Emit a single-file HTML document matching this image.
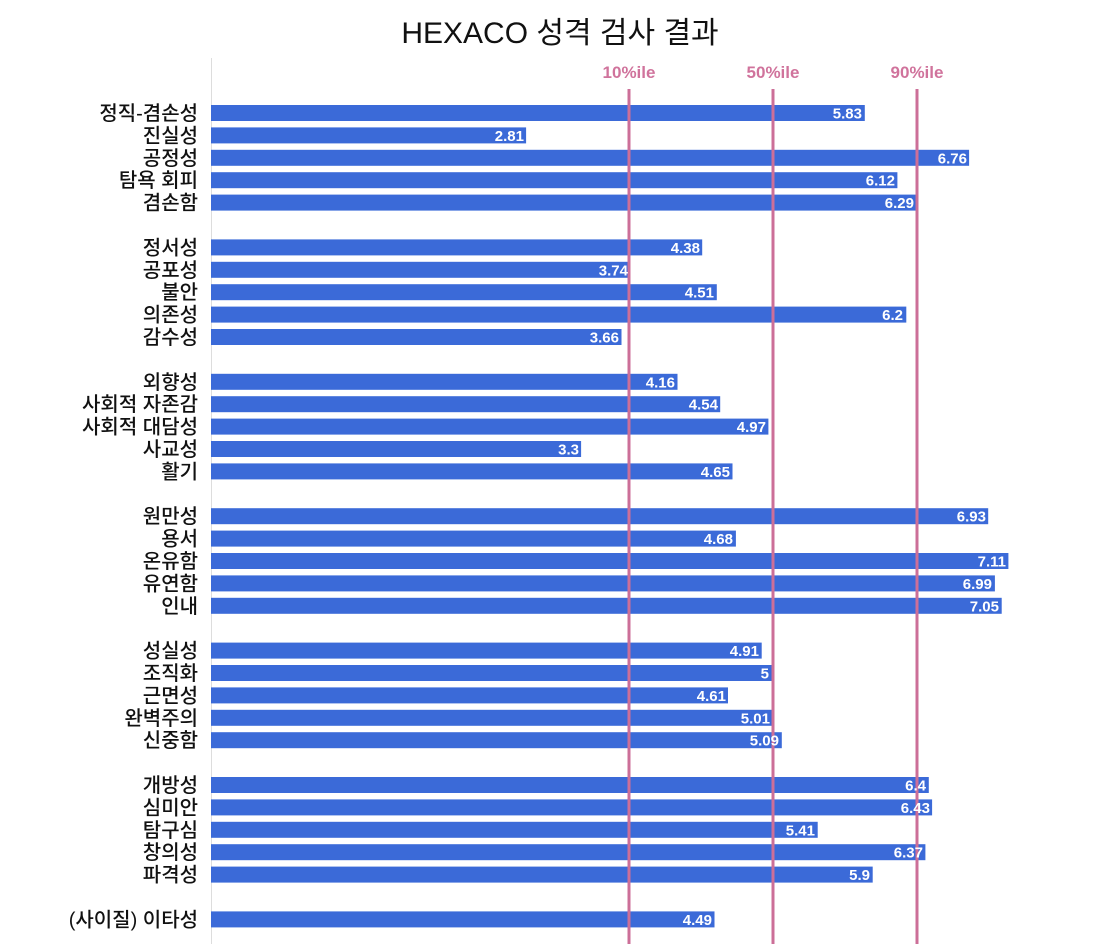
<!DOCTYPE html>
<html><head><meta charset="utf-8"><style>
html,body{margin:0;padding:0;background:#fff;}
svg{display:block}
.l{font-family:"Liberation Sans","Noto Sans CJK KR",sans-serif;font-size:20px;fill:#111;text-anchor:end;font-weight:500}
.v{font-family:"Liberation Sans","Noto Sans CJK KR",sans-serif;font-size:15px;font-weight:bold;fill:#fff;text-anchor:end}
.p{font-family:"Liberation Sans","Noto Sans CJK KR",sans-serif;font-size:17px;font-weight:bold;fill:#d0739c;text-anchor:middle}
</style></head><body>
<svg width="1111" height="944" viewBox="0 0 1111 944" xmlns="http://www.w3.org/2000/svg">
<text x="560" y="43" font-family="Liberation Sans,Noto Sans CJK KR,sans-serif" font-size="30" text-anchor="middle" fill="#111">HEXACO 성격 검사 결과</text>
<line x1="211.5" y1="58" x2="211.5" y2="944" stroke="#ddd" stroke-width="1"/>
<g fill="#3b6ad8">
<rect x="211" y="105" width="653.8" height="16"/>
<rect x="211" y="127.4" width="315.1" height="16"/>
<rect x="211" y="149.8" width="758.1" height="16"/>
<rect x="211" y="172.2" width="686.4" height="16"/>
<rect x="211" y="194.6" width="705.4" height="16"/>
<rect x="211" y="239.4" width="491.2" height="16"/>
<rect x="211" y="261.8" width="419.4" height="16"/>
<rect x="211" y="284.2" width="505.8" height="16"/>
<rect x="211" y="306.6" width="695.3" height="16"/>
<rect x="211" y="329" width="410.5" height="16"/>
<rect x="211" y="373.8" width="466.5" height="16"/>
<rect x="211" y="396.2" width="509.2" height="16"/>
<rect x="211" y="418.6" width="557.4" height="16"/>
<rect x="211" y="441" width="370.1" height="16"/>
<rect x="211" y="463.4" width="521.5" height="16"/>
<rect x="211" y="508.2" width="777.2" height="16"/>
<rect x="211" y="530.6" width="524.9" height="16"/>
<rect x="211" y="553" width="797.4" height="16"/>
<rect x="211" y="575.4" width="783.9" height="16"/>
<rect x="211" y="597.8" width="790.7" height="16"/>
<rect x="211" y="642.6" width="550.7" height="16"/>
<rect x="211" y="665" width="560.8" height="16"/>
<rect x="211" y="687.4" width="517" height="16"/>
<rect x="211" y="709.8" width="561.9" height="16"/>
<rect x="211" y="732.2" width="570.8" height="16"/>
<rect x="211" y="777" width="717.8" height="16"/>
<rect x="211" y="799.4" width="721.1" height="16"/>
<rect x="211" y="821.8" width="606.7" height="16"/>
<rect x="211" y="844.2" width="714.4" height="16"/>
<rect x="211" y="866.6" width="661.7" height="16"/>
<rect x="211" y="911.4" width="503.5" height="16"/>
</g>
<g stroke="#cc6f98" stroke-width="3">
<line x1="629" y1="89" x2="629" y2="944"/>
<line x1="773" y1="89" x2="773" y2="944"/>
<line x1="917" y1="89" x2="917" y2="944"/>
</g>
<text class="p" x="629" y="78">10%ile</text>
<text class="p" x="773" y="78">50%ile</text>
<text class="p" x="917" y="78">90%ile</text>
<g>
<text class="v" x="862" y="118.5">5.83</text>
<text class="v" x="524" y="140.9">2.81</text>
<text class="v" x="967" y="163.3">6.76</text>
<text class="v" x="895" y="185.7">6.12</text>
<text class="v" x="914" y="208.1">6.29</text>
<text class="v" x="700" y="252.9">4.38</text>
<text class="v" x="628" y="275.3">3.74</text>
<text class="v" x="714" y="297.7">4.51</text>
<text class="v" x="903" y="320.1">6.2</text>
<text class="v" x="619" y="342.5">3.66</text>
<text class="v" x="675" y="387.3">4.16</text>
<text class="v" x="718" y="409.7">4.54</text>
<text class="v" x="766" y="432.1">4.97</text>
<text class="v" x="579" y="454.5">3.3</text>
<text class="v" x="730" y="476.9">4.65</text>
<text class="v" x="986" y="521.7">6.93</text>
<text class="v" x="733" y="544.1">4.68</text>
<text class="v" x="1006" y="566.5">7.11</text>
<text class="v" x="992" y="588.9">6.99</text>
<text class="v" x="999" y="611.3">7.05</text>
<text class="v" x="759" y="656.1">4.91</text>
<text class="v" x="769" y="678.5">5</text>
<text class="v" x="726" y="700.9">4.61</text>
<text class="v" x="770" y="723.3">5.01</text>
<text class="v" x="779" y="745.7">5.09</text>
<text class="v" x="926" y="790.5">6.4</text>
<text class="v" x="930" y="812.9">6.43</text>
<text class="v" x="815" y="835.3">5.41</text>
<text class="v" x="923" y="857.7">6.37</text>
<text class="v" x="870" y="880.1">5.9</text>
<text class="v" x="712" y="924.9">4.49</text>
</g>
<g>
<text class="l" x="198" y="120">정직-겸손성</text>
<text class="l" x="198" y="142.4">진실성</text>
<text class="l" x="198" y="164.8">공정성</text>
<text class="l" x="198" y="187.2">탐욕 회피</text>
<text class="l" x="198" y="209.6">겸손함</text>
<text class="l" x="198" y="254.4">정서성</text>
<text class="l" x="198" y="276.8">공포성</text>
<text class="l" x="198" y="299.2">불안</text>
<text class="l" x="198" y="321.6">의존성</text>
<text class="l" x="198" y="344">감수성</text>
<text class="l" x="198" y="388.8">외향성</text>
<text class="l" x="198" y="411.2">사회적 자존감</text>
<text class="l" x="198" y="433.6">사회적 대담성</text>
<text class="l" x="198" y="456">사교성</text>
<text class="l" x="198" y="478.4">활기</text>
<text class="l" x="198" y="523.2">원만성</text>
<text class="l" x="198" y="545.6">용서</text>
<text class="l" x="198" y="568">온유함</text>
<text class="l" x="198" y="590.4">유연함</text>
<text class="l" x="198" y="612.8">인내</text>
<text class="l" x="198" y="657.6">성실성</text>
<text class="l" x="198" y="680">조직화</text>
<text class="l" x="198" y="702.4">근면성</text>
<text class="l" x="198" y="724.8">완벽주의</text>
<text class="l" x="198" y="747.2">신중함</text>
<text class="l" x="198" y="792">개방성</text>
<text class="l" x="198" y="814.4">심미안</text>
<text class="l" x="198" y="836.8">탐구심</text>
<text class="l" x="198" y="859.2">창의성</text>
<text class="l" x="198" y="881.6">파격성</text>
<text class="l" x="198" y="926.4">(사이질) 이타성</text>
</g>
</svg>
</body></html>
